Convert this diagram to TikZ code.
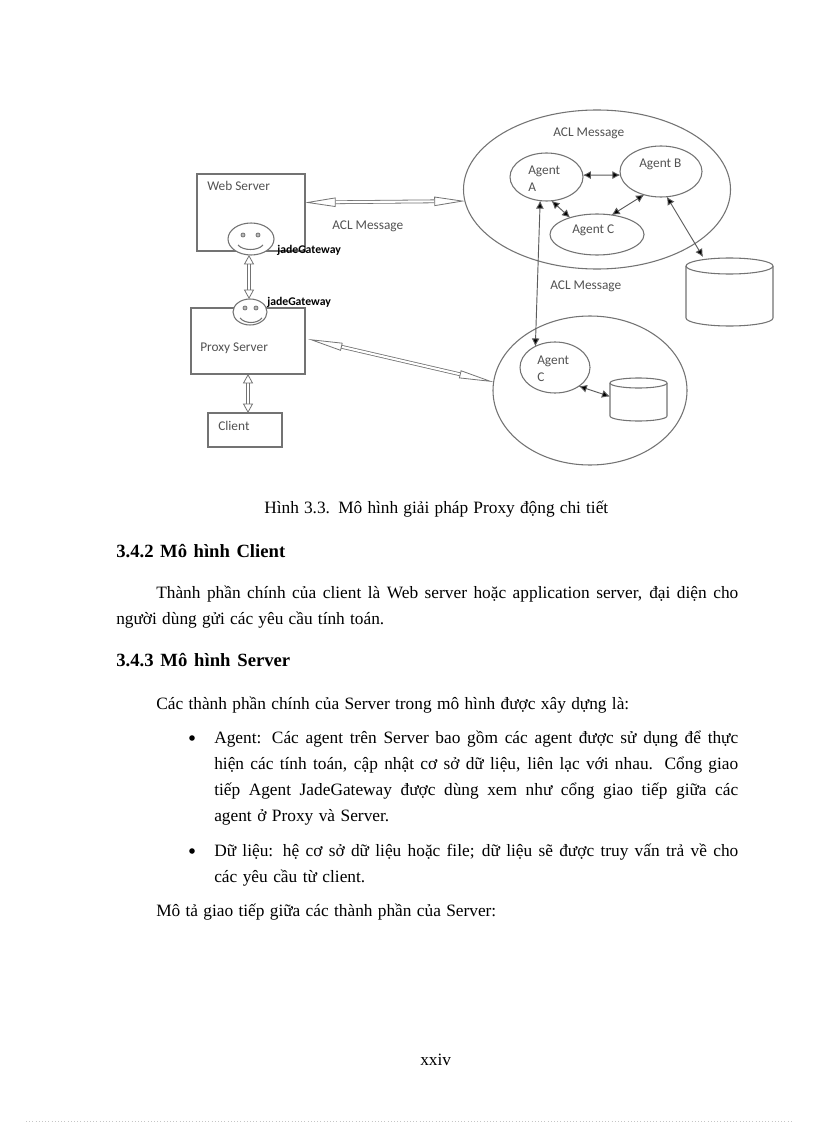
\documentclass[tikz,border=0pt]{standalone}
\usepackage{fontspec}
\setmainfont{Liberation Serif}
\newfontfamily\figfont{Carlito}
\usetikzlibrary{shapes.geometric,arrows.meta}
\definecolor{ln}{gray}{0.45}
\definecolor{lab}{gray}{0.32}
\newcommand{\lw}[2]{\makebox[\dimexpr #1pt*3/4\relax][s]{#2}}
\tikzset{
  x=0.75pt,y=-0.75pt,
  outl/.style={draw=ln,line width=0.8pt,fill=white,inner sep=0,outer sep=0},
  boxn/.style 2 args={outl,rectangle,minimum width=#1*0.75pt,minimum height=#2*0.75pt},
  elln/.style 2 args={outl,ellipse,minimum width=#1*0.75pt,minimum height=#2*0.75pt},
  slot/.style 2 args={rectangle,inner sep=0,outer sep=0,minimum width=#1*0.75pt,minimum height=#2*0.75pt},
  figt/.style={font=\figfont\fontsize{10pt}{12pt}\selectfont,text=lab,inner sep=0,anchor=west},
  gate/.style={font=\figfont\bfseries\fontsize{8.8pt}{10pt}\selectfont,text=black,inner sep=0,anchor=west},
  body/.style={font=\fontsize{13pt}{15pt}\selectfont,text=black,inner sep=0,anchor=base west},
  head/.style={font=\bfseries\fontsize{14pt}{16pt}\selectfont,text=black,inner sep=0,anchor=base west},
  thin/.style={draw=ln!80!black,line width=0.7pt,{Latex[length=6pt,width=6pt,fill=black]}-{Latex[length=6pt,width=6pt,fill=black]}},
  dbl/.style={draw=ln,double=white,double distance=1.6pt,line width=0.6pt},
  hbig/.style={{Triangle[fill=white,length=23pt,width=7pt]}-{Triangle[fill=white,length=23pt,width=7pt]}},
  hslim/.style={{Triangle[fill=white,length=26pt,width=6pt]}-{Triangle[fill=white,length=26pt,width=6pt]}},
  hvert/.style={{Triangle[fill=white,length=7pt,width=7.5pt]}-{Triangle[fill=white,length=7pt,width=7.5pt]}},
  eye/.style={draw=ln,line width=0.6pt,fill=ln!50,circle,minimum size=3pt,inner sep=0},
  smile/.style={draw=ln,line width=0.8pt},
}
\begin{document}
\begin{tikzpicture}
\useasboundingbox[fill=white] (0,0) rectangle (816,1123);

% left column boxes
\node[boxn={108}{77}] (web) at (251,212.5) {};
\node[boxn={114}{66}] (proxy) at (248,341) {};
\node[boxn={74}{34}] (client) at (245,430) {};
\node[elln={46}{32}] (face1) at (251,239) {};
\node[elln={34}{26}] (face2) at (250,312) {};
\node[eye] (e11) at (243,235) {};
\node[eye] (e12) at (258,235) {};
\node[eye] (e21) at (245,308) {};
\node[eye] (e22) at (256,308) {};
\draw[smile] (238,245) .. controls (243,251) and (258,251) .. (263,245);
\draw[smile] (240,318) .. controls (245,324) and (257,324) .. (262,318);

% right ellipses
\node[elln={267}{159}] (bigA) at (597,189.5) {};
\node[elln={194}{149}] (bigB) at (590,390.5) {};
\node[elln={73}{48}] (agA) at (546.5,177) {};
\node[elln={82}{51}] (agB) at (661,171.5) {};
\node[elln={94}{41}] (agC) at (597,234.5) {};
\node[elln={70}{51}] (agD) at (555,367.5) {};

% cylinders
\node[slot={87}{68}] (cyl1) at (729.5,292) {};
\draw[outl] (686,266) -- (686,318) arc[start angle=180,end angle=0,x radius=43.5,y radius=8] -- (773,266);
\draw[outl] (729.5,266) ellipse[x radius=43.5,y radius=8];
\node[slot={57}{43}] (cyl2) at (638.5,399.5) {};
\draw[outl] (610,383) -- (610,416) arc[start angle=180,end angle=0,x radius=28.5,y radius=5] -- (667,383);
\draw[outl] (638.5,383) ellipse[x radius=28.5,y radius=5];

% connectors
\draw[dbl,hbig] ([yshift=7.5pt]web.east) -- (bigA.185);
\draw[dbl,hvert] ([xshift=-1.5pt]face1.south) -- ([xshift=-0.75pt]face2.north);
\draw[dbl,hvert] (proxy.south) -- (proxy.south |- client.north);
\draw[dbl,hslim] ([shift={(3,-2)}]proxy.east) -- (bigB.175);
\draw[thin] (agA.3) -- (agB.185);
\draw[thin] (agA.282) -- (agC.148);
\draw[thin] (agC.53) -- (agB.234);
\draw[thin] (agB.283) -- ([shift={(-26.5,-1)}]cyl1.north);
\draw[thin] (agA.255) -- (agD.133);
\draw[thin] (agD.322) -- ([shift={(0,-3)}]cyl2.west);

% diagram labels
\node[figt] (t1) at (207,186) {Web Server};
\node[figt] (t2) at (332,226) {ACL Message};
\node[figt] (t3) at (200,348) {Proxy Server};
\node[figt] (t4) at (218,426) {Client};
\node[figt] (t5) at (553,133) {ACL Message};
\node[figt] (t6) at (528,171) {Agent};
\node[figt] (t7) at (528,187) {A};
\node[figt] (t8) at (639,164) {Agent B};
\node[figt] (t9) at (572,230) {Agent C};
\node[figt] (t10) at (550,286) {ACL Message};
\node[figt] (t11) at (537,361) {Agent};
\node[figt] (t12) at (537,377) {C};
\node[gate] (g1) at (277,250) {jadeGateway};
\node[gate] (g2) at (267,302) {jadeGateway};

% page text
\node[body] (c1) at (264,513) {\lw{344}{Hình 3.3. Mô hình giải pháp  Proxy động chi tiết}};
\node[head] (h1) at (116,557) {\lw{169}{3.4.2 Mô hình Client}};
\node[body] (p1) at (156,598) {\lw{582}{Thành phần chính của client là Web server hoặc application server, đại diện cho}};
\node[body] (p2) at (116,624) {\lw{268}{người dùng gửi các yêu cầu tính toán.}};
\node[head] (h2) at (116,666) {\lw{174}{3.4.3 Mô hình Server}};
\node[body] (p3) at (156,709) {\lw{473}{Các thành phần chính của Server trong mô hình được xây dựng là:}};
\node[circle,fill=black,minimum size=4.2pt,inner sep=0] (b1) at (192,738) {};
\node[body] (l1) at (214,743) {\lw{524}{Agent: Các agent trên Server bao gồm các agent được sử dụng để thực}};
\node[body] (l2) at (214,769) {\lw{524}{hiện các tính toán, cập nhật cơ sở dữ liệu, liên lạc với nhau. Cổng giao}};
\node[body] (l3) at (214,795) {\lw{524}{tiếp Agent JadeGateway được dùng xem như cổng giao tiếp giữa các}};
\node[body] (l4) at (214,821) {\lw{175}{agent ở Proxy và Server.}};
\node[circle,fill=black,minimum size=4.2pt,inner sep=0] (b2) at (192,851) {};
\node[body] (l5) at (214,856) {\lw{524}{Dữ liệu: hệ cơ sở dữ liệu hoặc file; dữ liệu sẽ được truy vấn trả về cho}};
\node[body] (l6) at (214,882) {\lw{151}{các yêu cầu từ client.}};
\node[body] (p4) at (156,916) {\lw{340}{Mô tả giao tiếp giữa các thành phần của Server:}};
\node[body] (pg) at (420,1065) {\lw{31}{xxiv}};
\draw[dotted,draw=gray!45,line width=0.4pt] (26,1121.5) -- (793,1121.5);
\end{tikzpicture}
\end{document}
